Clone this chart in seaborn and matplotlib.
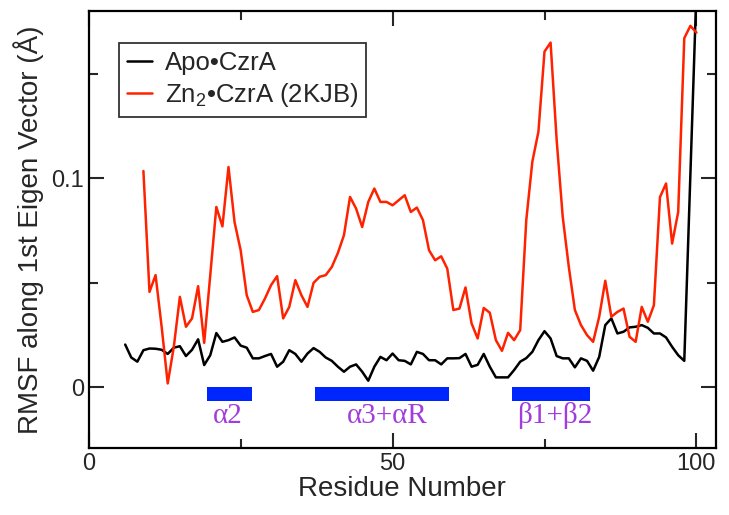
"""
RMSF along the first eigenvector, Apo vs Zn2 CzrA.
"""

import numpy as np
import pandas as pd
import matplotlib
matplotlib.use("Agg")
import matplotlib.pyplot as plt
from matplotlib.lines import Line2D
from matplotlib.ticker import MultipleLocator, FuncFormatter
import seaborn as sns

# --- data ---
apo_residues = list(range(6, 99)) + [100]
apo_rmsf = [
    0.0205, 0.0143, 0.0123, 0.0178, 0.0186, 0.0185, 0.0180, 0.0160, 0.0190, 0.0197,  # 6-15
    0.0150, 0.0180, 0.0230, 0.0107, 0.0154, 0.0260, 0.0218, 0.0226, 0.0239, 0.0200,  # 16-25
    0.0190, 0.0139, 0.0139, 0.0150, 0.0160, 0.0099, 0.0123, 0.0178, 0.0160, 0.0123,  # 26-35
    0.0162, 0.0188, 0.0170, 0.0143, 0.0127, 0.0099, 0.0075, 0.0099, 0.0110, 0.0075,  # 36-45
    0.0032, 0.0099, 0.0146, 0.0130, 0.0162, 0.0130, 0.0127, 0.0110, 0.0170, 0.0160,  # 46-55
    0.0130, 0.0130, 0.0110, 0.0139, 0.0139, 0.0140, 0.0160, 0.0099, 0.0108, 0.0160,  # 56-65
    0.0099, 0.0048, 0.0048, 0.0048, 0.0083, 0.0123, 0.0140, 0.0170, 0.0226, 0.0269,  # 66-75
    0.0234, 0.0150, 0.0139, 0.0139, 0.0096, 0.0139, 0.0127, 0.0080, 0.0146, 0.0298,  # 76-85
    0.0330, 0.0258, 0.0266, 0.0287, 0.0290, 0.0298, 0.0285, 0.0258, 0.0258, 0.0239,  # 86-95
    0.0194, 0.0154, 0.0127,                                                          # 96-98
    0.1900,                                                                          # 100
]

zn_residues = list(range(9, 101))
zn_rmsf = [
    0.1035, 0.0457, 0.0537, 0.0290, 0.0019, 0.0194, 0.0433, 0.0290, 0.0330, 0.0484,  # 9-18
    0.0213, 0.0537, 0.0863, 0.0770, 0.1054, 0.0790, 0.0656, 0.0441, 0.0361, 0.0370,  # 19-28
    0.0425, 0.0489, 0.0532, 0.0330, 0.0385, 0.0513, 0.0441, 0.0385, 0.0500, 0.0529,  # 29-38
    0.0537, 0.0576, 0.0643, 0.0728, 0.0911, 0.0855, 0.0767, 0.0887, 0.0951, 0.0887,  # 39-48
    0.0887, 0.0871, 0.0895, 0.0919, 0.0839, 0.0860, 0.0800, 0.0656, 0.0608, 0.0627,  # 49-58
    0.0568, 0.0370, 0.0377, 0.0478, 0.0306, 0.0234, 0.0380, 0.0357, 0.0226, 0.0175,  # 59-68
    0.0261, 0.0226, 0.0274, 0.0800, 0.1080, 0.1223, 0.1606, 0.1649, 0.1183, 0.0815,  # 69-78
    0.0576, 0.0370, 0.0298, 0.0250, 0.0218, 0.0338, 0.0510, 0.0338, 0.0361, 0.0377,  # 79-88
    0.0242, 0.0218, 0.0385, 0.0314, 0.0393, 0.0910, 0.0975, 0.0688, 0.0839, 0.1670,  # 89-98
    0.1729, 0.1697,                                                                  # 99-100
]

series_names = ["Apo\u2022CzrA", "Zn$_2$\u2022CzrA (2KJB)"]
series_colors = ["black", "#ff2200"]

ss_labels = ["\u03b12", "\u03b13+\u03b1R", "\u03b21+\u03b22"]
ss_start = [19.5, 37.3, 69.7]
ss_end = [26.9, 59.3, 82.5]
ss_label_x = [22.9, 49.1, 76.7]

df = pd.concat([
    pd.DataFrame({"residue": apo_residues, "rmsf": apo_rmsf, "state": series_names[0]}),
    pd.DataFrame({"residue": zn_residues, "rmsf": zn_rmsf, "state": series_names[1]}),
])

sns.set_style("ticks")
plt.rcParams["font.family"] = ["Liberation Sans", "DejaVu Sans"]
plt.rcParams["mathtext.fontset"] = "custom"
plt.rcParams["mathtext.rm"] = "Liberation Sans"
plt.rcParams["mathtext.it"] = "Liberation Sans"

fig, ax = plt.subplots(figsize=(7.29, 5.15), dpi=100)
fig.subplots_adjust(left=0.1217, right=0.982, bottom=0.130, top=0.9786)

sns.lineplot(data=df, x="residue", y="rmsf", hue="state",
             palette=dict(zip(series_names, series_colors)),
             linewidth=1.8, legend=False, ax=ax, estimator=None, sort=False)

# secondary structure bars and labels
ax.broken_barh([(s, e - s) for s, e in zip(ss_start, ss_end)], (-0.0064, 0.0064),
               facecolors="#0026ff", edgecolor="none")
for lab, x in zip(ss_labels, ss_label_x):
    ax.text(x, -0.0136, lab, ha="center", va="center", color="#a23cdc",
            fontsize=21, family=["Liberation Serif", "DejaVu Serif"])

ax.set_xlim(0, 103.2)
ax.set_ylim(-0.029, 0.18)
ax.xaxis.set_major_locator(MultipleLocator(50))
ax.xaxis.set_minor_locator(MultipleLocator(25))
ax.yaxis.set_major_locator(MultipleLocator(0.1))
ax.yaxis.set_minor_locator(MultipleLocator(0.05))
ax.yaxis.set_major_formatter(FuncFormatter(lambda v, p: f"{v:g}"))

ax.tick_params(which="both", direction="in", top=True, right=True, width=1.5,
               labelsize=17)
ax.tick_params(which="major", length=11)
ax.tick_params(which="minor", length=6.5)
for sp in ax.spines.values():
    sp.set_linewidth(1.6)
    sp.set_color("black")

ax.set_xlabel("Residue Number", fontsize=20, labelpad=1)
ax.set_ylabel("RMSF along 1st Eigen Vector (\u00c5)", fontsize=20, labelpad=5)

handles = [Line2D([], [], color=c, linewidth=1.8) for c in series_colors]
leg = ax.legend(handles, series_names, loc="upper left", bbox_to_anchor=(0.048, 0.927),
                fontsize=18.5, frameon=True, fancybox=False, handlelength=1.0,
                handletextpad=0.5, borderpad=0.3, labelspacing=0.25, borderaxespad=0)
leg.get_frame().set_edgecolor("black")
leg.get_frame().set_linewidth(1.3)

plt.savefig("out.png", dpi=100)
plt.close()
